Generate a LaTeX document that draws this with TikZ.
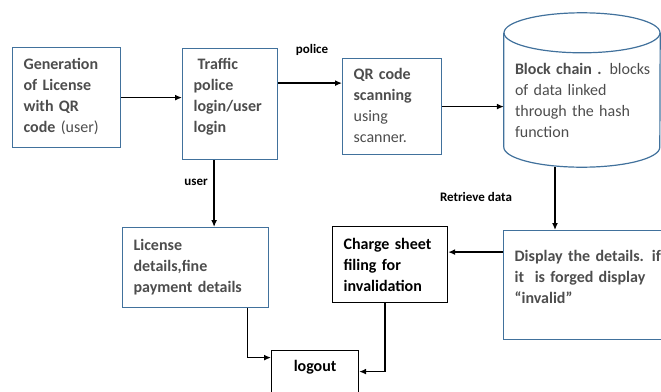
\documentclass[tikz,border=0pt]{standalone}
\usepackage{fontspec}
\setmainfont{Carlito}
\usetikzlibrary{arrows.meta, positioning, shapes.geometric}
\definecolor{boxblue}{HTML}{41719C}
\definecolor{textgray}{HTML}{4D4D4D}

\begin{document}
\begin{tikzpicture}[
    x=1pt, y=-1pt,
    block/.style={
        rectangle,
        draw=boxblue,
        line width=1.2pt,
        anchor=north west,
        inner xsep=11pt,
        inner ysep=10pt,
        align=left,
        text=textgray,
        font=\fontsize{16}{21}\selectfont
    },
    plainblock/.style={
        block,
        draw=black,
        text=black
    },
    store/.style={
        rectangle,
        inner sep=0pt,
        align=left,
        text=textgray,
        font=\fontsize{16}{21}\selectfont
    },
    outline/.style={
        draw=boxblue,
        line width=1.2pt
    },
    arrow/.style={
        -{Latex[length=7pt,width=6pt]},
        line width=1.3pt,
        black
    },
    tag/.style={
        font=\fontsize{13}{15}\selectfont\bfseries
    }
]

\useasboundingbox (0,0) rectangle (661,391);

\node[block, text width=86pt, text height=11.6pt, text depth=68.4pt] (gen) at (12,47)
    {\bfseries Generation\\of License\\with QR\\code \mdseries(user)};
\node[block, text width=73pt, text height=11.3pt, text depth=79.7pt] (traffic) at (182,48)
    {\bfseries\hspace*{4pt}Traffic\\police\\login/user\\login};
\node[block, text width=77pt, text height=10.6pt, text depth=65.4pt] (qr) at (342,58)
    {\textbf{QR code}\\\textbf{scanning}\\using\\scanner.};
\node[store, minimum width=156pt, minimum height=154pt, text width=134pt,
    text height=35.6pt, text depth=67pt] (store) at (582,90)
    {\mbox{\textbf{Block chain .} blocks}\\of data linked\\through the hash\\function};
\draw[outline] ([yshift=-20pt]store.north west) -- ([yshift=20pt]store.south west)
    arc[start angle=180, end angle=360, x radius=78pt, y radius=20pt]
    -- ([yshift=-20pt]store.north east);
\draw[outline] ([yshift=-20pt]store.north) ellipse[x radius=78pt, y radius=20pt];
\node[block, text width=124pt, text height=12.6pt, text depth=47.4pt] (license) at (122,227)
    {\bfseries License\\details,fine\\payment details};
\node[plainblock, text width=93pt, text height=12.6pt, text depth=43.4pt] (charge) at (332,226)
    {\bfseries Charge sheet\\filing for\\invalidation};
\node[block, text width=148pt, text height=21.3pt, text depth=67.7pt] (display) at (503,230)
    {\bfseries Display the details. if\\it\ \ is forged display\\``invalid''};
\node[plainblock, align=center, text width=65pt, text height=11.3pt, text depth=18.7pt] (logout) at (271,350)
    {\bfseries logout};

\node[tag] (policetag) at (312,50) {police};
\node[tag] (usertag) at (196,182) {user};
\node[tag] (retrievetag) at (476,197) {Retrieve data};

\draw[arrow] (gen.east) -- (gen.east -| traffic.west);
\draw[arrow] ([yshift=21pt]traffic.east) -- ([yshift=21pt]traffic.east -| qr.west);
\draw[arrow] ([xshift=-16pt]traffic.south) -- ([xshift=-16pt]traffic.south |- license.north);
\draw[arrow] (qr.east) -- (qr.east -| store.west);
\draw[arrow] ([xshift=-27pt]store.south) -- ([xshift=-27pt]store.south |- display.north);
\draw[arrow] ([yshift=33pt]display.west) -- ([yshift=33pt]display.west -| charge.east);
\draw[arrow] ([xshift=52pt]license.south) |- ([yshift=18pt]logout.west);
\draw[arrow] ([xshift=-5pt]charge.south) |- ([yshift=4pt]logout.east);

\end{tikzpicture}
\end{document}
